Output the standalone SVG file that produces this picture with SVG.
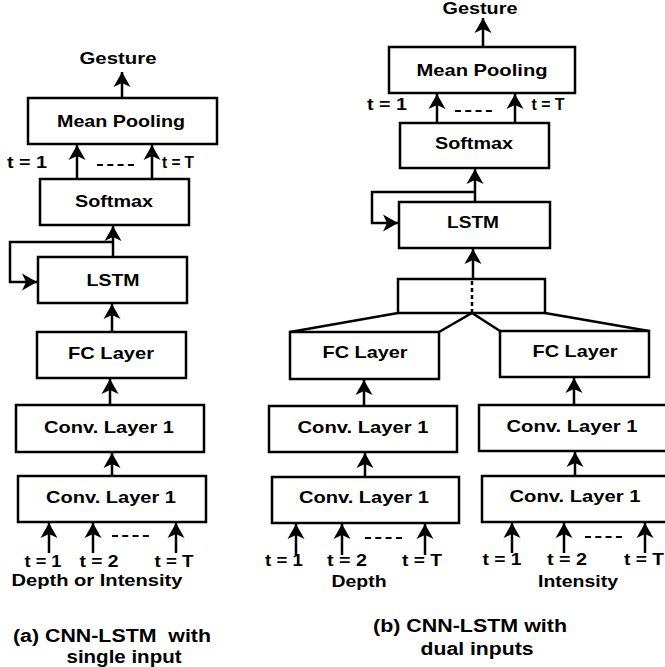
<svg xmlns="http://www.w3.org/2000/svg" width="665" height="667" viewBox="0 0 665 667">
<style>
  .box { fill: #fff; stroke: #000; stroke-width: 2.5; }
  .t { font-family: "Liberation Sans", Arial, sans-serif; font-weight: bold; font-size: 16.5px; fill: #000; text-anchor: middle; }
  .cap { font-family: "Liberation Sans", Arial, sans-serif; font-weight: bold; font-size: 18px; fill: #000; text-anchor: middle; }
  .c { fill: none; stroke: #000; stroke-width: 2.5; }
  .a { fill: none; stroke: #000; stroke-width: 2.5; marker-end: url(#ah); }
  .dash { fill: none; stroke: #000; stroke-width: 2; stroke-dasharray: 6 4.3; }
  .dot { fill: none; stroke: #000; stroke-width: 2.5; stroke-dasharray: 4 3; }
</style>
<defs>
  <marker id="ah" viewBox="0 -9 16 18" refX="15" refY="0" markerWidth="16" markerHeight="18" markerUnits="userSpaceOnUse" orient="auto">
    <path d="M0,-8.5 L15,0 L0,8.5 L4,0 z" fill="#000"/>
  </marker>
</defs>
<rect width="665" height="667" fill="#fff"/>

<!-- Left panel (a) -->
<g id="a-gesture"><text class="t" x="118" y="64" textLength="77" lengthAdjust="spacingAndGlyphs">Gesture</text></g>
<g id="a-meanpool"><rect class="box" x="28" y="98" width="189" height="46"/><text class="t" x="121" y="127" textLength="128" lengthAdjust="spacingAndGlyphs">Mean Pooling</text></g>
<g id="a-softmax"><rect class="box" x="40" y="179" width="149" height="46"/><text class="t" x="114" y="207" textLength="78" lengthAdjust="spacingAndGlyphs">Softmax</text></g>
<g id="a-lstm"><rect class="box" x="38" y="257" width="149" height="46"/><text class="t" x="113" y="286" textLength="53" lengthAdjust="spacingAndGlyphs">LSTM</text></g>
<g id="a-fc"><rect class="box" x="37" y="332" width="149" height="46"/><text class="t" x="111" y="359" textLength="86" lengthAdjust="spacingAndGlyphs">FC Layer</text></g>
<g id="a-conv2"><rect class="box" x="16" y="405" width="188" height="47"/><text class="t" x="109" y="433" textLength="130" lengthAdjust="spacingAndGlyphs">Conv. Layer 1</text></g>
<g id="a-conv1"><rect class="box" x="18" y="476" width="188" height="46"/><text class="t" x="111" y="503" textLength="130" lengthAdjust="spacingAndGlyphs">Conv. Layer 1</text></g>
<g id="a-labels">
  <text class="t" x="27" y="168" textLength="40" lengthAdjust="spacingAndGlyphs">t = 1</text>
  <text class="t" x="178" y="168" textLength="32" lengthAdjust="spacingAndGlyphs">t = T</text>
  <text class="t" x="43" y="567" textLength="37" lengthAdjust="spacingAndGlyphs">t = 1</text>
  <text class="t" x="99" y="567" textLength="39" lengthAdjust="spacingAndGlyphs">t = 2</text>
  <text class="t" x="174" y="567" textLength="39" lengthAdjust="spacingAndGlyphs">t = T</text>
  <text class="t" x="97" y="586" textLength="171" lengthAdjust="spacingAndGlyphs">Depth or Intensity</text>
  <text class="cap" x="112" y="642" textLength="198" lengthAdjust="spacingAndGlyphs" xml:space="preserve">(a) CNN-LSTM  with</text>
  <text class="cap" x="124" y="663" textLength="115" lengthAdjust="spacingAndGlyphs">single input</text>
</g>

<!-- Right panel (b) -->
<g id="b-gesture"><text class="t" x="480" y="14" textLength="75" lengthAdjust="spacingAndGlyphs">Gesture</text></g>
<g id="b-meanpool"><rect class="box" x="389" y="47" width="186" height="46"/><text class="t" x="482" y="76" textLength="131" lengthAdjust="spacingAndGlyphs">Mean Pooling</text></g>
<g id="b-softmax"><rect class="box" x="400" y="123" width="149" height="45"/><text class="t" x="474" y="149" textLength="78" lengthAdjust="spacingAndGlyphs">Softmax</text></g>
<g id="b-lstm"><rect class="box" x="399" y="202" width="151" height="46"/><text class="t" x="473" y="228" textLength="52" lengthAdjust="spacingAndGlyphs">LSTM</text></g>
<g id="b-concat"><rect class="box" x="398" y="279" width="147" height="34"/></g>
<g id="b-fc-depth"><rect class="box" x="290" y="332" width="149" height="47"/><text class="t" x="365" y="358" textLength="85" lengthAdjust="spacingAndGlyphs">FC Layer</text></g>
<g id="b-fc-int"><rect class="box" x="500" y="331" width="149" height="46"/><text class="t" x="575" y="357" textLength="85" lengthAdjust="spacingAndGlyphs">FC Layer</text></g>
<g id="b-conv2-depth"><rect class="box" x="269" y="406" width="188" height="46"/><text class="t" x="363" y="433" textLength="131" lengthAdjust="spacingAndGlyphs">Conv. Layer 1</text></g>
<g id="b-conv2-int"><rect class="box" x="479" y="405" width="195" height="46"/><text class="t" x="572" y="432" textLength="131" lengthAdjust="spacingAndGlyphs">Conv. Layer 1</text></g>
<g id="b-conv1-depth"><rect class="box" x="272" y="477" width="187" height="46"/><text class="t" x="364" y="503" textLength="130" lengthAdjust="spacingAndGlyphs">Conv. Layer 1</text></g>
<g id="b-conv1-int"><rect class="box" x="482" y="476" width="192" height="46"/><text class="t" x="575" y="502" textLength="131" lengthAdjust="spacingAndGlyphs">Conv. Layer 1</text></g>
<g id="b-labels">
  <text class="t" x="387" y="110" textLength="40" lengthAdjust="spacingAndGlyphs">t = 1</text>
  <text class="t" x="548" y="110" textLength="33" lengthAdjust="spacingAndGlyphs">t = T</text>
  <text class="t" x="284" y="566" textLength="38" lengthAdjust="spacingAndGlyphs">t = 1</text>
  <text class="t" x="347" y="566" textLength="40" lengthAdjust="spacingAndGlyphs">t = 2</text>
  <text class="t" x="422" y="566" textLength="40" lengthAdjust="spacingAndGlyphs">t = T</text>
  <text class="t" x="502" y="565" textLength="39" lengthAdjust="spacingAndGlyphs">t = 1</text>
  <text class="t" x="567" y="565" textLength="40" lengthAdjust="spacingAndGlyphs">t = 2</text>
  <text class="t" x="644" y="565" textLength="40" lengthAdjust="spacingAndGlyphs">t = T</text>
  <text class="t" x="359" y="587" textLength="55" lengthAdjust="spacingAndGlyphs">Depth</text>
  <text class="t" x="578" y="587" textLength="80" lengthAdjust="spacingAndGlyphs">Intensity</text>
  <text class="cap" x="470" y="632" textLength="194" lengthAdjust="spacingAndGlyphs">(b) CNN-LSTM with</text>
  <text class="cap" x="477" y="655" textLength="113" lengthAdjust="spacingAndGlyphs">dual inputs</text>
</g>

<g id="connectors">
  <!-- left -->
  <line class="a" x1="122" y1="98" x2="122" y2="72"/>
  <line class="a" x1="77" y1="179" x2="77" y2="145"/>
  <line class="a" x1="152" y1="179" x2="152" y2="145"/>
  <line class="dash" x1="97" y1="165" x2="134" y2="165"/>
  <line class="a" x1="113" y1="257" x2="113" y2="226"/>
  <polyline class="a" points="113,242 10,242 10,282 37,282"/>
  <line class="a" x1="112" y1="332" x2="112" y2="304"/>
  <line class="a" x1="110" y1="405" x2="110" y2="379"/>
  <line class="a" x1="112" y1="476" x2="112" y2="453"/>
  <line class="a" x1="49" y1="553" x2="49" y2="523"/>
  <line class="a" x1="93" y1="553" x2="93" y2="523"/>
  <line class="a" x1="176" y1="553" x2="176" y2="523"/>
  <line class="dash" x1="112" y1="536" x2="149" y2="536"/>
  <!-- right -->
  <line class="a" x1="483" y1="47" x2="483" y2="18"/>
  <line class="a" x1="437" y1="123" x2="437" y2="94"/>
  <line class="a" x1="515" y1="123" x2="515" y2="94"/>
  <line class="dash" x1="455" y1="111" x2="492" y2="111"/>
  <line class="a" x1="475" y1="202" x2="475" y2="169"/>
  <polyline class="a" points="475,192 372,192 372,223 398,223"/>
  <line class="a" x1="473" y1="279" x2="473" y2="249"/>
  <line class="dot" x1="472" y1="281" x2="472" y2="312"/>
  <line class="c" x1="398" y1="313" x2="290" y2="332"/>
  <polyline class="c" points="439,332 472,313 500,331"/>
  <line class="c" x1="545" y1="313" x2="649" y2="331"/>
  <line class="a" x1="364" y1="406" x2="364" y2="380"/>
  <line class="a" x1="574" y1="405" x2="574" y2="378"/>
  <line class="a" x1="365" y1="477" x2="365" y2="453"/>
  <line class="a" x1="575" y1="476" x2="575" y2="452"/>
  <line class="a" x1="296" y1="555" x2="296" y2="524"/>
  <line class="a" x1="342" y1="555" x2="342" y2="524"/>
  <line class="a" x1="425" y1="555" x2="425" y2="524"/>
  <line class="dash" x1="365" y1="538" x2="402" y2="538"/>
  <line class="a" x1="512" y1="553" x2="512" y2="523"/>
  <line class="a" x1="564" y1="553" x2="564" y2="523"/>
  <line class="a" x1="645" y1="553" x2="645" y2="523"/>
  <line class="dash" x1="585" y1="537" x2="622" y2="537"/>
</g>
</svg>
